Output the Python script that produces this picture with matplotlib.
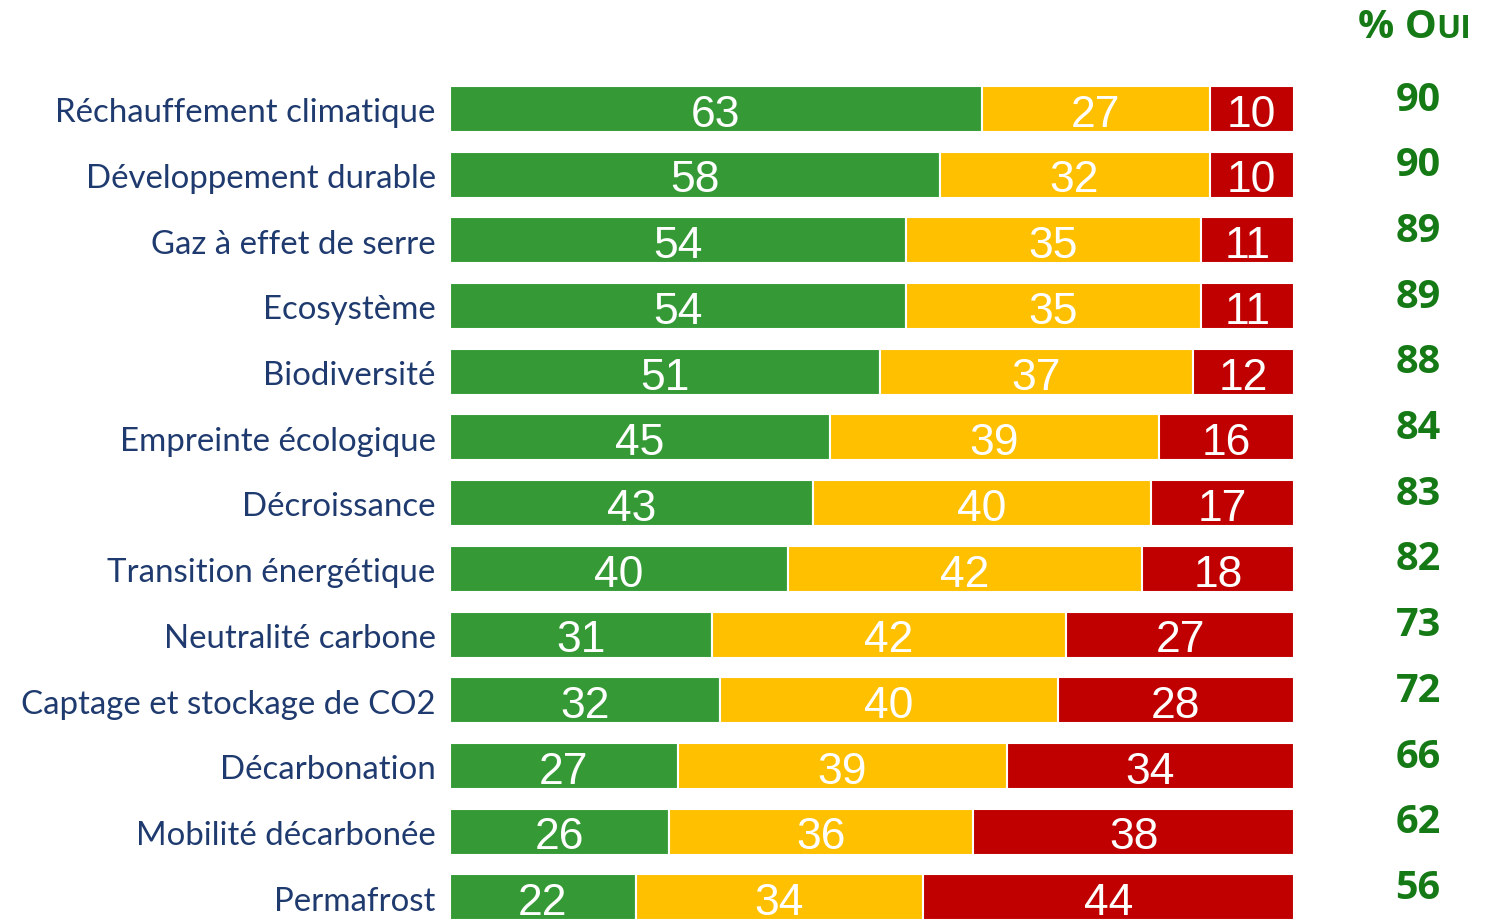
import numpy as np
import matplotlib.pyplot as plt

themes = ["Réchauffement climatique", "Développement durable", "Gaz à effet de serre",
          "Ecosystème", "Biodiversité", "Empreinte écologique", "Décroissance",
          "Transition énergétique", "Neutralité carbone", "Captage et stockage de CO2",
          "Décarbonation", "Mobilité décarbonée", "Permafrost"]
green_vals = [63, 58, 54, 54, 51, 45, 43, 40, 31, 32, 27, 26, 22]
yellow_vals = [27, 32, 35, 35, 37, 39, 40, 42, 42, 40, 39, 36, 34]
red_vals = [10, 10, 11, 11, 12, 16, 17, 18, 27, 28, 34, 38, 44]
oui_vals = [90, 90, 89, 89, 88, 84, 83, 82, 73, 72, 66, 62, 56]

colors = ["#359A35", "#FFC000", "#C00000"]
navy = "#1F3A6E"
dark_green = "#157A15"

fig = plt.figure(figsize=(14.91, 9.2), dpi=100)
ax = fig.add_axes([450 / 1491, 0, 844 / 1491, 1])

y = np.arange(len(themes))
left = np.zeros(len(themes))
for vals, col in zip([green_vals, yellow_vals, red_vals], colors):
    vals = np.asarray(vals)
    bars = ax.barh(y, vals, left=left, height=0.70, color=col,
                   edgecolor="white", linewidth=1.5)
    for b, v in zip(bars, vals):
        ax.text(b.get_x() + b.get_width() / 2, b.get_y() + b.get_height() / 2 + 0.08,
                str(v), ha="center", va="center", color="white",
                fontsize=32, family="Liberation Sans")
    left += vals

ax.set_xlim(0, 100)
ax.set_ylim(12.33, -1.674)
ax.axis("off")

for i, name in enumerate(themes):
    ax.text(-1.7, i + 0.05, name, ha="right", va="center", color=navy,
            fontsize=23.8, family="Lato")

for i, v in enumerate(oui_vals):
    ax.text(114.7, i - 0.15, str(v), ha="center", va="center", color=dark_green,
            fontsize=28.5, fontweight="bold", family="Open Sans")

ax.text(116.9, -1.26, "% O", ha="right", va="center", color=dark_green,
        fontsize=29, fontweight="bold", family="Open Sans", clip_on=False)
ax.text(116.9, -1.23, "UI", ha="left", va="center", color=dark_green,
        fontsize=23, fontweight="bold", family="Open Sans", clip_on=False)

fig.savefig("out.png", dpi=100)
